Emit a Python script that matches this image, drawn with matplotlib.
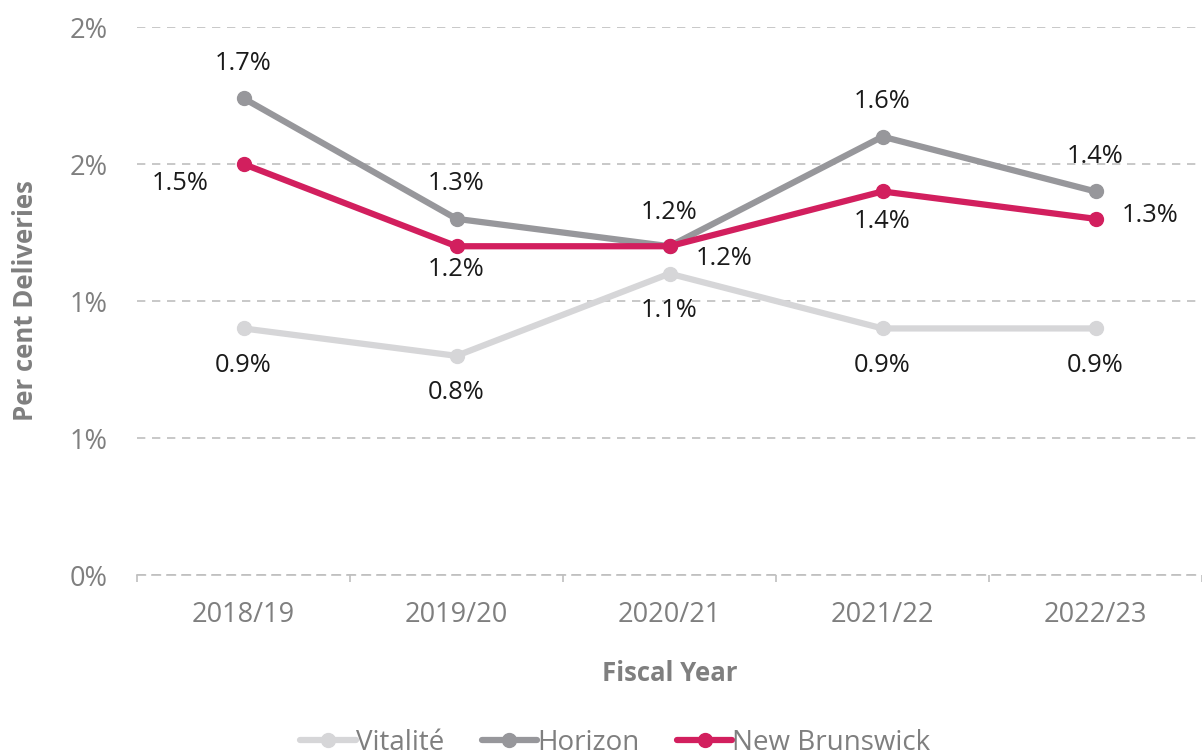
import matplotlib.pyplot as plt
import numpy as np
from matplotlib.ticker import FuncFormatter, MultipleLocator

years = ["2018/19", "2019/20", "2020/21", "2021/22", "2022/23"]
vitalite = [0.90, 0.80, 1.10, 0.90, 0.90]
horizon = [1.74, 1.30, 1.20, 1.60, 1.40]
new_brunswick = [1.50, 1.20, 1.20, 1.40, 1.30]

plt.rcParams['font.family'] = ['Open Sans', 'DejaVu Sans']

fig = plt.figure(figsize=(12.02, 7.56), dpi=100)
ax = fig.add_axes([0.114, 0.2394, 0.886, 0.7248])

x = np.arange(len(years))
series = [
    ("Vitalité", vitalite, "#D6D6D8"),
    ("Horizon", horizon, "#97979B"),
    ("New Brunswick", new_brunswick, "#D21F5E"),
]
for name, vals, col in series:
    ax.plot(x, vals, color=col, linewidth=4.5, marker='o', markersize=10,
            label=name, solid_capstyle='round', zorder=3)

# label offsets in pixels (dx, dy)
offsets = {
    "Vitalité": [(0, -37), (0, -37), (0, -37), (0, -37), (0, -37)],
    "Horizon": [(0, 35), (0, 35), (0, 34), (0, 35), (0, 35)],
    "New Brunswick": [(-63, -19), (0, -23), (55, -12), (0, -30), (55, 3)],
}
for name, vals, col in series:
    for i, v in enumerate(vals):
        dx, dy = offsets[name][i]
        ax.annotate(f"{v:.1f}%", (x[i], v), xytext=(dx, dy),
                    textcoords='offset pixels', ha='center', va='center',
                    fontsize=18.3, color='#1A1A1A')

ax.set_xlim(-0.5, 4.5)
ax.set_ylim(0, 2.0)
ax.yaxis.set_major_locator(MultipleLocator(0.5))
ax.yaxis.set_major_formatter(FuncFormatter(lambda v, p: f"{int(v + 0.5)}%"))
ax.set_xticks(x)
ax.set_xticklabels(years)
ax.set_xticks(np.arange(-0.5, 5, 1), minor=True)

ax.grid(axis='y', color='#BFBFBF', linestyle=(0, (5, 4)), linewidth=1.2)
for s in ['top', 'right', 'left']:
    ax.spines[s].set_visible(False)
ax.spines['bottom'].set_color('#BFBFBF')
ax.spines['bottom'].set_linestyle((0, (5, 4)))
ax.spines['bottom'].set_linewidth(1.2)

ax.tick_params(axis='y', length=0, labelsize=19.5, labelcolor='#7F7F7F', pad=21)
ax.tick_params(axis='x', which='major', length=0, labelsize=19.5,
               labelcolor='#7F7F7F', pad=19)
ax.tick_params(axis='x', which='minor', length=5, color='#BFBFBF', width=1.2)

ax.set_xlabel("Fiscal Year", fontsize=18.5, fontweight='bold', color='#7F7F7F', labelpad=22)
ax.set_ylabel("Per cent Deliveries", fontsize=18.5, fontweight='bold', color='#7F7F7F')
ax.yaxis.set_label_coords(-0.092, 0.5)

leg = fig.legend(loc='center', bbox_to_anchor=(0.512, 0.017), ncol=3, frameon=False,
                 fontsize=20, handlelength=2.0, handletextpad=0.0, columnspacing=1.35,
                 labelcolor='#7F7F7F')

fig.savefig("out.png", dpi=100)
